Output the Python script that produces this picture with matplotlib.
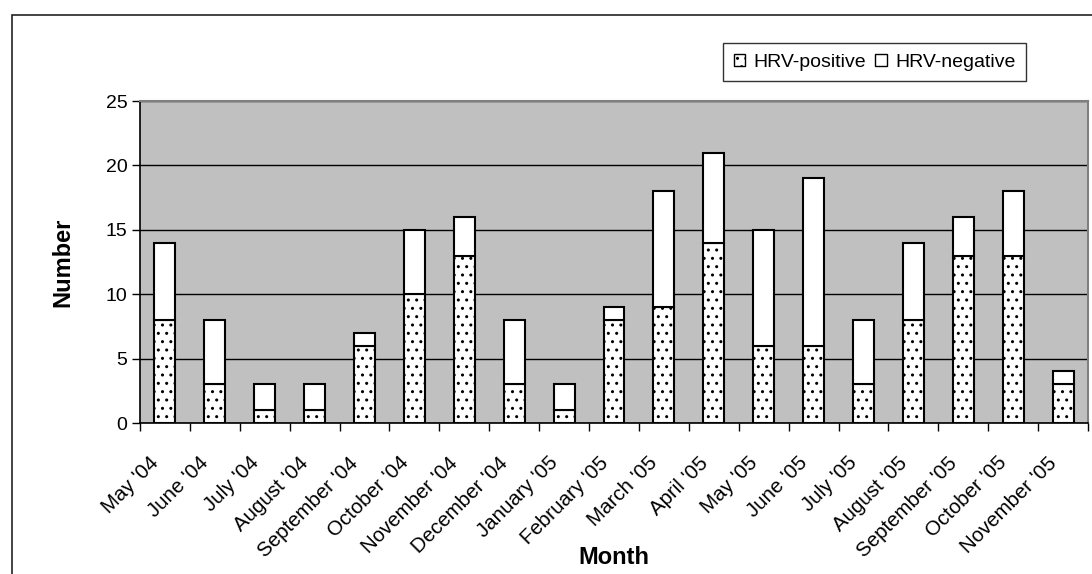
import matplotlib
matplotlib.use("Agg")
import matplotlib.pyplot as plt
import matplotlib.patches as mpatches
import matplotlib.transforms as mtransforms
import numpy as np

plt.rcParams['font.family'] = ['Liberation Sans', 'DejaVu Sans']
plt.rcParams['hatch.linewidth'] = 1.0
plt.rcParams['hatch.color'] = '#333333'

months = ["May '04", "June '04", "July '04", "August '04", "September '04",
          "October '04", "November '04", "December '04", "January '05",
          "February '05", "March '05", "April '05", "May '05", "June '05",
          "July '05", "August '05", "September '05", "October '05", "November '05"]
hrv_positive = [8, 3, 1, 1, 6, 10, 13, 3, 1, 8, 9, 14, 6, 6, 3, 8, 13, 13, 3]
hrv_negative = [6, 5, 2, 2, 1, 5, 3, 5, 2, 1, 9, 7, 9, 13, 5, 6, 3, 5, 1]
y_ticks = [0, 5, 10, 15, 20, 25]

W, H = 1092, 574
fig = plt.figure(figsize=(W / 100, H / 100), dpi=100)

# outer chart border
fig.patches.append(mpatches.Rectangle((12 / W, -0.05), 1.2, (574 - 15) / H + 0.05,
                                      transform=fig.transFigure, fill=False,
                                      edgecolor='#222222', linewidth=1.2))

ax = fig.add_axes([140 / W, (H - 423) / H, (1088 - 140) / W, (423 - 101) / H])
ax.set_facecolor('#c0c0c0')

x = np.arange(len(months))
bw = 0.42
b1 = ax.bar(x, hrv_positive, width=bw, color='white', edgecolor='black',
            linewidth=1.5, hatch='..', zorder=3, label='HRV-positive')
b2 = ax.bar(x, hrv_negative, width=bw, bottom=hrv_positive, color='white',
            edgecolor='black', linewidth=1.5, zorder=3, label='HRV-negative')

ax.set_xlim(-0.5, len(months) - 0.5)
ax.set_ylim(0, 25)
ax.set_yticks(y_ticks)
ax.yaxis.grid(True, color='black', linewidth=1.0, zorder=1)
ax.set_axisbelow(True)

ax.set_xticks(x)
ax.set_xticklabels(months, rotation=45, ha='right', va='center',
                   rotation_mode='anchor', fontsize=14.8)
ax.tick_params(axis='x', length=0, pad=0)
offset = mtransforms.ScaledTranslation(-9 / 100, -37 / 100, fig.dpi_scale_trans)
for lab in ax.get_xticklabels():
    lab.set_transform(lab.get_transform() + offset)
ax.set_xticks(np.arange(len(months) + 1) - 0.5, minor=True)
ax.tick_params(axis='x', which='minor', length=6, width=1, color='black', direction='out')
ax.tick_params(axis='y', length=6, width=1, direction='out', labelsize=14, pad=3)

for s in ['top', 'right']:
    ax.spines[s].set_color('#808080')
    ax.spines[s].set_linewidth(1.5)
for s in ['left', 'bottom']:
    ax.spines[s].set_color('black')
    ax.spines[s].set_linewidth(1.2)

fig.text(614 / W, 1 - 557 / H, 'Month', ha='center', va='center',
         fontsize=17, fontweight='bold')
fig.text(63 / W, 1 - 262 / H, 'Number', ha='center', va='center',
         fontsize=17, fontweight='bold', rotation=90)

leg = fig.legend(handles=[b1, b2], labels=['HRV-positive', 'HRV-negative'],
                 loc='upper right', bbox_to_anchor=(1026 / W, 1 - 43 / H),
                 ncol=2, frameon=True, fancybox=False, fontsize=14,
                 handlelength=0.6, handleheight=0.6, handletextpad=0.4,
                 columnspacing=0.5, borderpad=0.55, borderaxespad=0)
leg.get_frame().set_edgecolor('black')
leg.get_frame().set_linewidth(1.0)
for p in leg.legend_handles:
    p.set_linewidth(1.0)

fig.savefig('out.png', dpi=100)
